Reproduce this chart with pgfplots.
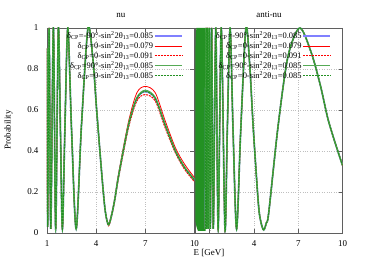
\documentclass[border=0pt]{standalone}
\usepackage{pgfplots}
\pgfplotsset{compat=1.18}
\usepackage{pgfplotstable}
\usepackage{fontspec}
\setmainfont{Liberation Serif}
\definecolor{cblue}{RGB}{128,128,255}
\definecolor{cred}{RGB}{255,0,0}
\definecolor{cgreen}{RGB}{85,170,85}
\definecolor{cdgreen}{RGB}{35,145,35}
\definecolor{cframe}{RGB}{95,95,95}

% nu panel: a = dCP=-90, 0.085 ; b = dCP=0, 0.079 ; c = dCP=0, 0.091 ; d = dCP=90, 0.085 ; e = dCP=0, 0.085
\pgfplotstableread{
E     a     b     c     d     e
1.00  0.90  0.90  0.90  0.90  0.90
1.04  0.03  0.03  0.03  0.03  0.03
1.13  1.00  1.00  1.00  1.00  1.00
1.23  0.02  0.02  0.02  0.02  0.02
1.39  1.00  1.00  1.00  1.00  1.00
1.53  0.02  0.02  0.02  0.02  0.02
1.69  1.00  1.00  1.00  1.00  1.00
1.82  0.50  0.50  0.50  0.50  0.50
1.94  0.02  0.02  0.02  0.02  0.02
2.09  0.50  0.50  0.50  0.50  0.50
2.27  1.00  1.00  1.00  1.00  1.00
2.50  0.50  0.50  0.50  0.50  0.50
2.78  0.02  0.02  0.02  0.02  0.02
3.10  0.52  0.52  0.52  0.52  0.52
3.50  1.00  1.00  1.00  1.00  1.00
3.80  0.85  0.85  0.85  0.85  0.85
4.03  0.60  0.60  0.60  0.60  0.60
4.35  0.28  0.28  0.28  0.28  0.28
4.55  0.11  0.11  0.11  0.11  0.11
4.75  0.04  0.045 0.035 0.04  0.04
4.95  0.09  0.095 0.085 0.09  0.09
5.15  0.17  0.175 0.165 0.17  0.17
5.37  0.28  0.29  0.27  0.28  0.28
5.98  0.528 0.545 0.515 0.53  0.528
6.49  0.657 0.685 0.645 0.66  0.657
7.00  0.690 0.715 0.675 0.695 0.690
7.60  0.657 0.685 0.645 0.66  0.657
8.20  0.528 0.550 0.515 0.53  0.528
8.84  0.398 0.415 0.390 0.40  0.398
9.40  0.318 0.335 0.310 0.32  0.318
10.00 0.258 0.270 0.250 0.26  0.258
}\nuTable

% anti-nu panel (all five curves nearly coincide)
\pgfplotstableread{
E     p
0.709 0.02
0.749 1.00
0.794 0.02
0.844 1.00
0.900 0.02
0.966 1.00
1.04  0.02
1.13  1.00
1.24  0.02
1.41  1.00
1.57  0.02
1.78  1.00
2.03  0.02
2.19  0.50
2.38  1.00
2.58  0.50
2.82  0.02
3.10  0.50
3.45  1.00
3.70  0.83
3.96  0.50
4.30  0.14
4.48  0.05
4.66  0.015
4.84  0.05
5.00  0.10
5.63  0.52
6.30  0.86
7.10  1.00
7.88  0.88
8.50  0.72
9.00  0.56
9.50  0.44
10.0  0.33
}\anuTable

\tikzset{
  pblue/.style={draw=cblue, line width=1.6pt},
  pred/.style={draw=cred, line width=0.8pt},
  preddash/.style={draw=cred, line width=1pt, dash pattern=on 2pt off 1pt},
  pgreen/.style={draw=cgreen, line width=1.6pt},
  pdgreen/.style={draw=cdgreen, line width=1pt, dash pattern=on 2pt off 1pt},
}

\pgfplotsset{
  panel/.style={
    scale only axis, width=147.5bp, height=205bp,
    ymin=0, ymax=1, ytick={0,0.2,0.4,0.6,0.8,1},
    xtick={1,4,7,10},
    grid=major, grid style={dotted, black!25, line width=0.35pt},
    tick align=inside, major tick length=4bp,
    axis line style={cframe, line width=0.9pt},
    tick style={cframe, line width=0.6pt},
    /pgf/number format/assume math mode=true,
    tick label style={font=\fontsize{9}{10}\selectfont},
    xticklabel style={anchor=base, yshift=-13bp},
    yticklabel style={xshift=-5bp},
    legend plot pos=right,
    legend cell align=right,
    legend style={draw=none, fill=none, at={(rel axis cs:0.92,0.985)}, anchor=north east,
      font=\fontsize{8.5}{9}\selectfont, row sep=0pt, inner sep=0pt, nodes={inner sep=0.8pt}},
  },
}

\begin{document}
\begin{tikzpicture}[font=\fontsize{9}{10}\selectfont]
\path[use as bounding box] (-47bp,-29bp) rectangle (327bp,233bp);

\begin{axis}[panel, at={(0,0)}, anchor=south west, xmin=1, xmax=10,
  yticklabels={0,0.2,0.4,0.6,0.8,1}, xticklabels={1,4,7,10}]
\addplot[pblue, smooth, legend image code/.code={\draw[pblue] (0bp,0bp) -- (27bp,0bp);}] table[x=E, y=a] {\nuTable};
\addlegendentry{δ\textsubscript{CP}=-90°-sin\textsuperscript{2}2θ\textsubscript{13}=0.085}
\addplot[pred, smooth, legend image code/.code={\draw[pred] (0bp,0bp) -- (27bp,0bp);}] table[x=E, y=b] {\nuTable};
\addlegendentry{δ\textsubscript{CP}=0-sin\textsuperscript{2}2θ\textsubscript{13}=0.079}
\addplot[preddash, smooth, legend image code/.code={\draw[preddash] (0bp,0bp) -- (27bp,0bp);}] table[x=E, y=c] {\nuTable};
\addlegendentry{δ\textsubscript{CP}=0-sin\textsuperscript{2}2θ\textsubscript{13}=0.091}
\addplot[pgreen, smooth, legend image code/.code={\draw[pgreen] (0bp,0bp) -- (27bp,0bp);}] table[x=E, y=d] {\nuTable};
\addlegendentry{δ\textsubscript{CP}=90°-sin\textsuperscript{2}2θ\textsubscript{13}=0.085}
\addplot[pdgreen, smooth, legend image code/.code={\draw[pdgreen] (0bp,0bp) -- (27bp,0bp);}] table[x=E, y=e] {\nuTable};
\addlegendentry{δ\textsubscript{CP}=0-sin\textsuperscript{2}2θ\textsubscript{13}=0.085}
\end{axis}

\begin{axis}[panel, at={(148bp,0)}, anchor=south west, xmin=0, xmax=10,
  yticklabels={}, xticklabels={,4,7,10},
  legend style={at={(rel axis cs:0.924,0.985)}}]
\addplot[fill=cdgreen, draw=none, forget plot] coordinates {
 (0.02,0.06) (0.02,0.88) (0.06,0.98) (0.10,1.00) (0.72,1.00) (0.72,0.01) (0.20,0.01) (0.10,0.03) (0.02,0.06)} -- cycle;
\addplot[pblue, smooth, legend image code/.code={\draw[pblue] (0bp,0bp) -- (27bp,0bp);}] table[x=E, y=p] {\anuTable};
\addlegendentry{δ\textsubscript{CP}=-90°-sin\textsuperscript{2}2θ\textsubscript{13}=0.085}
\addplot[pred, smooth, legend image code/.code={\draw[pred] (0bp,0bp) -- (27bp,0bp);}] table[x=E, y=p] {\anuTable};
\addlegendentry{δ\textsubscript{CP}=0-sin\textsuperscript{2}2θ\textsubscript{13}=0.079}
\addplot[preddash, smooth, legend image code/.code={\draw[preddash] (0bp,0bp) -- (27bp,0bp);}] table[x=E, y=p] {\anuTable};
\addlegendentry{δ\textsubscript{CP}=0-sin\textsuperscript{2}2θ\textsubscript{13}=0.091}
\addplot[pgreen, smooth, legend image code/.code={\draw[pgreen] (0bp,0bp) -- (27bp,0bp);}] table[x=E, y=p] {\anuTable};
\addlegendentry{δ\textsubscript{CP}=90°-sin\textsuperscript{2}2θ\textsubscript{13}=0.085}
\addplot[pdgreen, smooth, legend image code/.code={\draw[pdgreen] (0bp,0bp) -- (27bp,0bp);}] table[x=E, y=p] {\anuTable};
\addlegendentry{δ\textsubscript{CP}=0-sin\textsuperscript{2}2θ\textsubscript{13}=0.085}
\end{axis}

\node[anchor=base] at (73.75bp,215bp) {nu};
\node[anchor=base] at (222bp,215bp) {anti-nu};
\node[rotate=90] at (-38.5bp,103bp) {Probability};
\node at (162bp,-20bp) {E [GeV]};
\end{tikzpicture}
\end{document}
